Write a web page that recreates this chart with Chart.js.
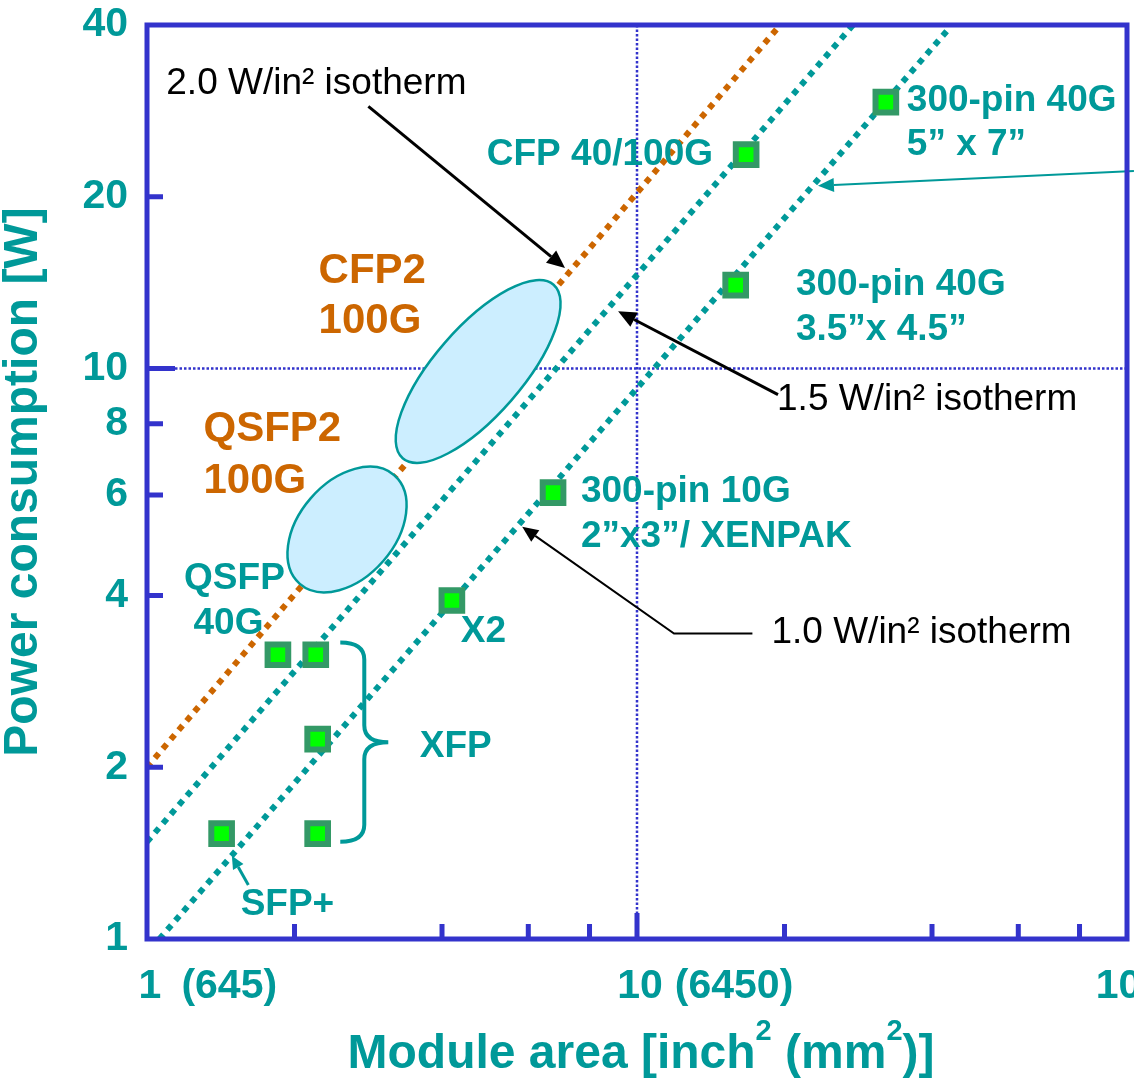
<!DOCTYPE html>
<html lang="en">
<head>
<meta charset="UTF-8" />
<title>Module power vs. module area</title>
<script src="https://cdn.jsdelivr.net/npm/chart.js"></script>
<style>
  body { margin: 0; background: #fff; }
  canvas { display: block; }
</style>
</head>
<body>
<canvas id="chart" width="1134" height="1081"></canvas>
<script>
  // module markers: area in inch^2, power in W
  const moduleNames = ['SFP+', 'QSFP 40G', 'XFP', 'XFP', 'XFP', 'X2', '300-pin 10G', '300-pin 40G 3.5x4.5', 'CFP 40/100G', '300-pin 40G 5x7'];
  const moduleArea = [1.42, 1.85, 2.21, 2.23, 2.23, 4.19, 6.74, 15.9, 16.7, 32.2];
  const modulePower = [1.53, 3.15, 3.15, 2.24, 1.53, 3.92, 6.06, 14.0, 23.7, 29.3];

  // isotherm lines, two end points each
  const isoNames = ['2.0 W/in² isotherm', '1.5 W/in² isotherm', '1.0 W/in² isotherm'];
  const isoArea = [[1, 19.6], [1, 27.6], [1.06, 43.5]];
  const isoPower = [[2, 40], [1.48, 40], [1, 39.6]];

  // axis ticks
  const yTicks = [1, 2, 4, 6, 8, 10, 20, 40];
  const xMinorTicks = [2, 4, 6, 8, 20, 40, 60, 80];
  const yMinorTicks = [2, 4, 6, 8, 20];
  const xLabelValues = [1, 10, 100];
  const xLabelMm = ['(645)', '(6450)', ''];

  const TEAL = '#009999';
  const ORANGE = '#cc6600';
  const BLUE = '#3333cc';
  const FONT = '"Liberation Sans", Arial, sans-serif';

  // annotation positions are given in data coordinates (area, power)
  const notes = [
    { text: isoNames[0], a: 1.10, p: 31.5, color: '#000', font: '37px' },
    { text: isoNames[1], a: 19.4, p: 8.83, color: '#000', font: '37px' },
    { text: isoNames[2], a: 18.9, p: 3.44, color: '#000', font: '37px' },
    { text: 'CFP 40/100G', a: 4.96, p: 23.7, color: TEAL },
    { text: '300-pin 40G', a: 35.7, p: 29.5, color: TEAL },
    { text: '5” x 7”', a: 35.7, p: 24.7, color: TEAL },
    { text: '300-pin 40G', a: 21.2, p: 14.0, color: TEAL },
    { text: '3.5”x 4.5”', a: 21.2, p: 11.7, color: TEAL },
    { text: 'CFP2', a: 2.25, p: 14.8, color: ORANGE, font: 'bold 42px' },
    { text: '100G', a: 2.25, p: 12.1, color: ORANGE, font: 'bold 42px' },
    { text: 'QSFP2', a: 1.31, p: 7.82, color: ORANGE, font: 'bold 42px' },
    { text: '100G', a: 1.31, p: 6.34, color: ORANGE, font: 'bold 42px' },
    { text: 'QSFP', a: 1.196, p: 4.28, color: TEAL },
    { text: '40G', a: 1.25, p: 3.57, color: TEAL },
    { text: '300-pin 10G', a: 7.72, p: 6.09, color: TEAL },
    { text: '2”x3”/ XENPAK', a: 7.72, p: 5.07, color: TEAL },
    { text: 'X2', a: 4.39, p: 3.46, color: TEAL },
    { text: 'XFP', a: 3.62, p: 2.17, color: TEAL },
    { text: 'SFP+', a: 1.56, p: 1.147, color: TEAL }
  ];

  const ellipses = [
    { a: 4.74, p: 9.88, rx: 115, ry: 44, rot: -49 },
    { a: 2.56, p: 5.22, rx: 72, ry: 48, rot: -49 }
  ];

  const arrows = [
    { pts: [[2.83, 28.8], [7.13, 15.0]], color: '#000', width: 3, head: 18, half: 8 },
    { pts: [[19.4, 9.0], [9.15, 12.6]], color: '#000', width: 3, head: 18, half: 8 },
    { pts: [[17.2, 3.43], [11.9, 3.43], [5.83, 5.28]], color: '#000', width: 2, head: 16, half: 7 },
    { pts: [[103.3, 22.2], [23.4, 20.9]], color: TEAL, width: 2, head: 16, half: 7 },
    { pts: [[1.61, 1.244], [1.49, 1.40]], color: TEAL, width: 3, head: 13, half: 6 }
  ];

  const brace = { a: 2.48, top: 3.31, bottom: 1.48, depth: 48, r: 17 };

  function drawArrow(ctx, pts, color, width, head, half) {
    ctx.save();
    ctx.strokeStyle = color;
    ctx.fillStyle = color;
    ctx.lineWidth = width;
    const n = pts.length;
    const [tx, ty] = pts[n - 1];
    const [px, py] = pts[n - 2];
    const ang = Math.atan2(ty - py, tx - px);
    const bx = tx - head * Math.cos(ang), by = ty - head * Math.sin(ang);
    ctx.beginPath();
    ctx.moveTo(pts[0][0], pts[0][1]);
    for (let i = 1; i < n - 1; i++) ctx.lineTo(pts[i][0], pts[i][1]);
    ctx.lineTo(bx, by);
    ctx.stroke();
    ctx.beginPath();
    ctx.moveTo(tx, ty);
    ctx.lineTo(bx + half * Math.sin(ang), by - half * Math.cos(ang));
    ctx.lineTo(bx - half * Math.sin(ang), by + half * Math.cos(ang));
    ctx.closePath();
    ctx.fill();
    ctx.restore();
  }

  const overlay = {
    id: 'overlay',
    beforeDatasetsDraw(chart) {
      const { ctx, chartArea: ca, scales: { x, y } } = chart;
      const gx = x.getPixelForValue(10), gy = y.getPixelForValue(10);
      ctx.save();
      ctx.strokeStyle = BLUE;
      ctx.lineWidth = 2.5;
      ctx.setLineDash([2.5, 2]);
      ctx.beginPath();
      ctx.moveTo(ca.left + 28, gy); ctx.lineTo(ca.right, gy);
      ctx.moveTo(gx, ca.top); ctx.lineTo(gx, ca.bottom - 26);
      ctx.stroke();
      ctx.restore();
    },
    afterDatasetsDraw(chart) {
      const { ctx, scales: { x, y } } = chart;
      const P = (a, p) => [x.getPixelForValue(a), y.getPixelForValue(p)];

      // ellipses
      ellipses.forEach(e => {
        const [cx, cy] = P(e.a, e.p);
        ctx.save();
        ctx.beginPath();
        ctx.ellipse(cx, cy, e.rx, e.ry, e.rot * Math.PI / 180, 0, Math.PI * 2);
        ctx.fillStyle = '#cceeff';
        ctx.fill();
        ctx.lineWidth = 2.5;
        ctx.strokeStyle = TEAL;
        ctx.stroke();
        ctx.restore();
      });

      // brace for XFP
      const [bx0, bTop] = P(brace.a, brace.top);
      const bBot = y.getPixelForValue(brace.bottom);
      const bMid = (bTop + bBot) / 2, h = brace.depth / 2, r = brace.r;
      ctx.save();
      ctx.strokeStyle = TEAL;
      ctx.lineWidth = 4;
      ctx.beginPath();
      ctx.moveTo(bx0, bTop);
      ctx.quadraticCurveTo(bx0 + h, bTop, bx0 + h, bTop + r);
      ctx.lineTo(bx0 + h, bMid - r);
      ctx.quadraticCurveTo(bx0 + h, bMid, bx0 + brace.depth, bMid);
      ctx.quadraticCurveTo(bx0 + h, bMid, bx0 + h, bMid + r);
      ctx.lineTo(bx0 + h, bBot - r);
      ctx.quadraticCurveTo(bx0 + h, bBot, bx0, bBot);
      ctx.stroke();
      ctx.restore();

      // arrows
      arrows.forEach(ar => {
        drawArrow(ctx, ar.pts.map(q => P(q[0], q[1])), ar.color, ar.width, ar.head, ar.half);
      });

      // text notes
      ctx.save();
      ctx.textBaseline = 'middle';
      ctx.textAlign = 'left';
      notes.forEach(n => {
        const [tx, ty] = P(n.a, n.p);
        ctx.font = (n.font || 'bold 37px') + ' ' + FONT;
        ctx.fillStyle = n.color;
        ctx.fillText(n.text, tx - 1, ty);
      });
      ctx.restore();
    },
    afterDraw(chart) {
      const { ctx, chartArea: ca, scales: { x, y } } = chart;
      ctx.save();
      // frame
      ctx.strokeStyle = BLUE;
      ctx.lineWidth = 5;
      ctx.strokeRect(ca.left, ca.top, ca.right - ca.left, ca.bottom - ca.top);
      // inward ticks
      ctx.beginPath();
      xMinorTicks.forEach(v => {
        const px = x.getPixelForValue(v);
        ctx.moveTo(px, ca.bottom); ctx.lineTo(px, ca.bottom - 15);
      });
      yMinorTicks.forEach(v => {
        const py = y.getPixelForValue(v);
        ctx.moveTo(ca.left, py); ctx.lineTo(ca.left + 16, py);
      });
      const t10x = x.getPixelForValue(10), t10y = y.getPixelForValue(10);
      ctx.moveTo(t10x, ca.bottom); ctx.lineTo(t10x, ca.bottom - 26);
      ctx.moveTo(ca.left, t10y); ctx.lineTo(ca.left + 28, t10y);
      ctx.stroke();

      // x tick labels: number centred on the tick, mm^2 in brackets after it
      ctx.fillStyle = TEAL;
      ctx.font = 'bold 41px ' + FONT;
      ctx.textBaseline = 'middle';
      ctx.textAlign = 'left';
      xLabelValues.forEach((v, i) => {
        const num = String(v);
        const w = ctx.measureText(num).width;
        const left = x.getPixelForValue(v) + 3 - w / 2;
        ctx.fillText(num, left, 987);
        if (xLabelMm[i]) ctx.fillText(xLabelMm[i], left + w + (i === 0 ? 20 : 12), 987);
      });

      // x axis title with superscripts
      const runs = [
        { t: 'Module area [inch', sup: false },
        { t: '2', sup: true },
        { t: ' (mm', sup: false },
        { t: '2', sup: true },
        { t: ')]', sup: false }
      ];
      const big = 'bold 48px ' + FONT, small = 'bold 29px ' + FONT;
      let total = 0;
      runs.forEach(rn => { ctx.font = rn.sup ? small : big; total += ctx.measureText(rn.t).width; });
      let cx = (ca.left + ca.right) / 2 + 4 - total / 2;
      ctx.textBaseline = 'alphabetic';
      runs.forEach(rn => {
        ctx.font = rn.sup ? small : big;
        ctx.fillText(rn.t, cx, rn.sup ? 1040 : 1068);
        cx += ctx.measureText(rn.t).width;
      });
      ctx.restore();
    }
  };

  const isoColors = [ORANGE, TEAL, TEAL];
  const isoSets = isoNames.map((name, i) => ({
    label: name,
    order: 1,
    data: isoArea[i].map((a, j) => ({ x: a, y: isoPower[i][j] })),
    showLine: true,
    borderColor: isoColors[i],
    borderWidth: 6,
    borderDash: [6, 6.2],
    borderCapStyle: 'butt',
    pointRadius: 0,
    fill: false
  }));

  new Chart(document.getElementById('chart'), {
    type: 'scatter',
    data: {
      datasets: [
        {
          label: 'Modules',
          order: 0,
          data: moduleArea.map((a, i) => ({ x: a, y: modulePower[i], name: moduleNames[i] })),
          pointStyle: 'rect',
          pointRadius: 14.6,
          pointBorderWidth: 6,
          pointBackgroundColor: '#00ff00',
          pointBorderColor: '#339966',
          showLine: false
        },
        ...isoSets
      ]
    },
    options: {
      responsive: false,
      animation: false,
      layout: { autoPadding: false, padding: { top: 25, right: 7, left: 0, bottom: 0 } },
      plugins: { legend: { display: false }, tooltip: { enabled: false } },
      scales: {
        x: {
          type: 'logarithmic',
          min: 1,
          max: 100,
          grid: { display: false, drawTicks: false },
          border: { display: false },
          ticks: { display: false },
          afterFit: s => {
            s.height = 142;
            s.paddingLeft = 0;
            s.paddingRight = 0;
          }
        },
        y: {
          type: 'logarithmic',
          min: 1,
          max: 40,
          grid: { display: false, drawTicks: false },
          border: { display: false },
          afterBuildTicks: s => { s.ticks = yTicks.map(v => ({ value: v })); },
          ticks: {
            autoSkip: false,
            padding: 19,
            color: TEAL,
            font: { family: FONT, size: 41, weight: 'bold' },
            callback: v => String(v)
          },
          title: {
            display: true,
            text: 'Power consumption [W]',
            color: TEAL,
            padding: { top: 0, bottom: 0 },
            font: { family: FONT, size: 48, weight: 'bold', lineHeight: 1.0 }
          },
          afterFit: s => {
            s.width = 147;
            s.paddingTop = 0;
            s.paddingBottom = 0;
          }
        }
      }
    },
    plugins: [overlay]
  });
</script>
</body>
</html>
